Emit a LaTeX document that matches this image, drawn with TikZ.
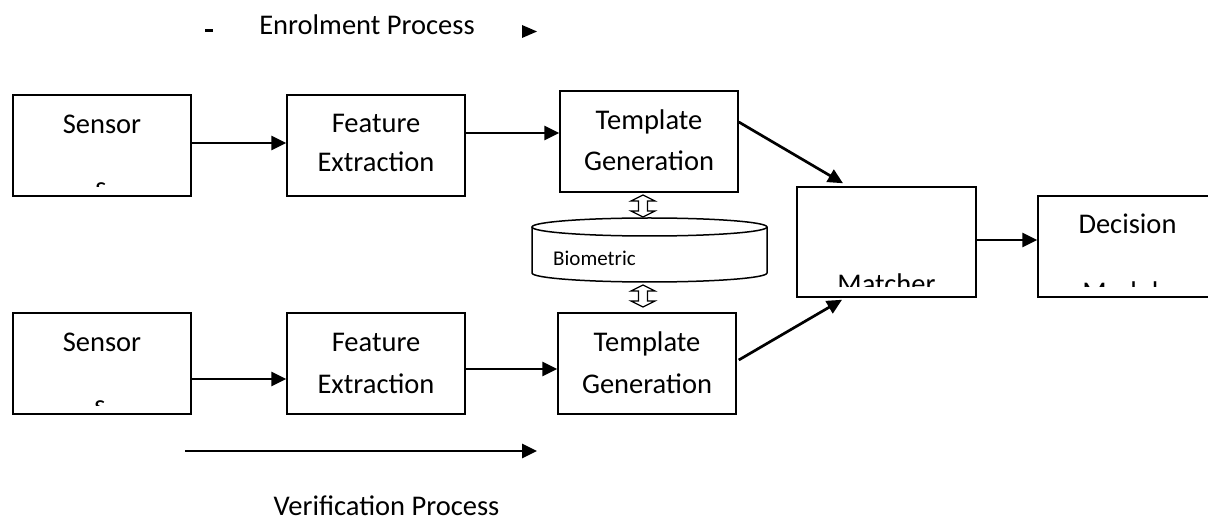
\documentclass[tikz,border=0pt]{standalone}
\usepackage{fontspec}
\setmainfont{Carlito}
\usetikzlibrary{arrows.meta,calc}
\tikzset{
  box/.style={draw=black, line width=1.5pt, rectangle, inner sep=0pt},
  txt/.style={inner sep=0pt, font=\fontsize{28.5}{34}\selectfont, anchor=base},
  small/.style={inner sep=0pt, font=\fontsize{21}{25}\selectfont, anchor=base west},
  arr/.style={line width=2.7pt, -{Triangle[length=15pt,width=14pt]}},
  dbl/.style={draw=black, line width=1.2pt, fill=white},
}
\begin{document}
\begin{tikzpicture}[x=1pt,y=-1pt]
\clip (0,0) rectangle (1208,521);
\fill[white] (0,0) rectangle (1208,521);

% boxes
\node[box, minimum width=178pt, minimum height=101pt] (s1) at (102,145.5) {};
\node[box, minimum width=178pt, minimum height=101pt] (f1) at (376,145.5) {};
\node[box, minimum width=178pt, minimum height=101pt] (t1) at (649,141.5) {};
\node[box, minimum width=179pt, minimum height=110pt] (m) at (886.5,242) {};
\node[box, minimum width=179pt, minimum height=101pt] (d) at (1127.5,246.5) {};
\node[box, minimum width=178pt, minimum height=101pt] (s2) at (102,363.5) {};
\node[box, minimum width=178pt, minimum height=101pt] (f2) at (376,363.5) {};
\node[box, minimum width=178pt, minimum height=101pt] (t2) at (647,363.5) {};

% texts
\node[txt] (s1a) at (102,134) {Sensor};
\begin{scope}\clip (14,150) rectangle (190,187);
\node[txt] (s1b) at (101,196.5) {s};\end{scope}
\node[txt] (f1a) at (376,133) {Feature};
\node[txt] (f1b) at (376,172) {Extraction};
\node[txt] (t1a) at (649,130) {Template};
\node[txt] (t1b) at (649,171) {Generation};
\begin{scope}\clip (798,200) rectangle (975,287);
\node[txt] (ma) at (886.5,293.5) {Matcher};\end{scope}
\node[txt] (da) at (1127.5,234) {Decision};
\begin{scope}\clip (1039,240) rectangle (1208,287);
\node[txt] (db2) at (1127.5,301.5) {Module};\end{scope}
\node[txt] (s2a) at (102,352) {Sensor};
\begin{scope}\clip (14,370) rectangle (190,405);
\node[txt] (s2b) at (100,414.5) {s};\end{scope}
\node[txt] (f2a) at (376,352) {Feature};
\node[txt] (f2b) at (376,393) {Extraction};
\node[txt] (t2a) at (647,352) {Template};
\node[txt] (t2b) at (647,393) {Generation};

% biometric database cylinder
\node[minimum width=235pt, minimum height=64pt, inner sep=0pt] (bio) at (649.5,250) {};
\draw[line width=1.5pt, fill=white] (532,227) -- (532,273) arc[start angle=180, end angle=360, x radius=117.5pt, y radius=9pt] -- (767,227);
\draw[line width=1.5pt] (649.5,227) ellipse[x radius=117.5pt, y radius=9pt];
\node[small] (biot) at (553,266) {Biometric};

% hollow double arrows
\begin{scope}[shift={(643,206)}]
\draw[dbl] (0,-11) -- (12,-5) -- (4.5,-5) -- (4.5,5) -- (12,5) -- (0,11) -- (-12,5) -- (-4.5,5) -- (-4.5,-5) -- (-12,-5) -- cycle;
\end{scope}
\begin{scope}[shift={(643,296)}]
\draw[dbl] (0,-11) -- (12,-5) -- (4.5,-5) -- (4.5,5) -- (12,5) -- (0,11) -- (-12,5) -- (-4.5,5) -- (-4.5,-5) -- (-12,-5) -- cycle;
\end{scope}

% connectors
\draw[arr] ([yshift=2.5pt]s1.east) -- ([yshift=2.5pt]f1.west);
\draw[arr] ([yshift=12.5pt]f1.east) -- ([yshift=8.5pt]t1.west);
\draw[arr] ([yshift=19.5pt]t1.east) -- ([xshift=-43.5pt,yshift=3pt]m.north);
\draw[arr] ([yshift=2pt]m.east) -- ([yshift=6.5pt]d.west);
\draw[arr] ([yshift=-15.5pt]s2.east) -- ([yshift=-15.5pt]f2.west);
\draw[arr] ([yshift=-5.5pt]f2.east) -- ([yshift=-5.5pt]t2.west);
\draw[arr] ([xshift=2pt,yshift=3.5pt]t2.east) -- ([xshift=-44.5pt,yshift=-2pt]m.south);

% process labels
\node[txt] (enr) at (367,35) {Enrolment Process};
\fill (205,29) rectangle (213,32.5);
\fill (522,25) -- (537,31.5) -- (522,38) -- cycle;
\coordinate (va) at (185,451);
\coordinate (vb) at (537,451);
\draw[arr] (va) -- (vb);
\node[txt] (ver) at (386.5,515) {Verification Process};
\end{tikzpicture}
\end{document}
